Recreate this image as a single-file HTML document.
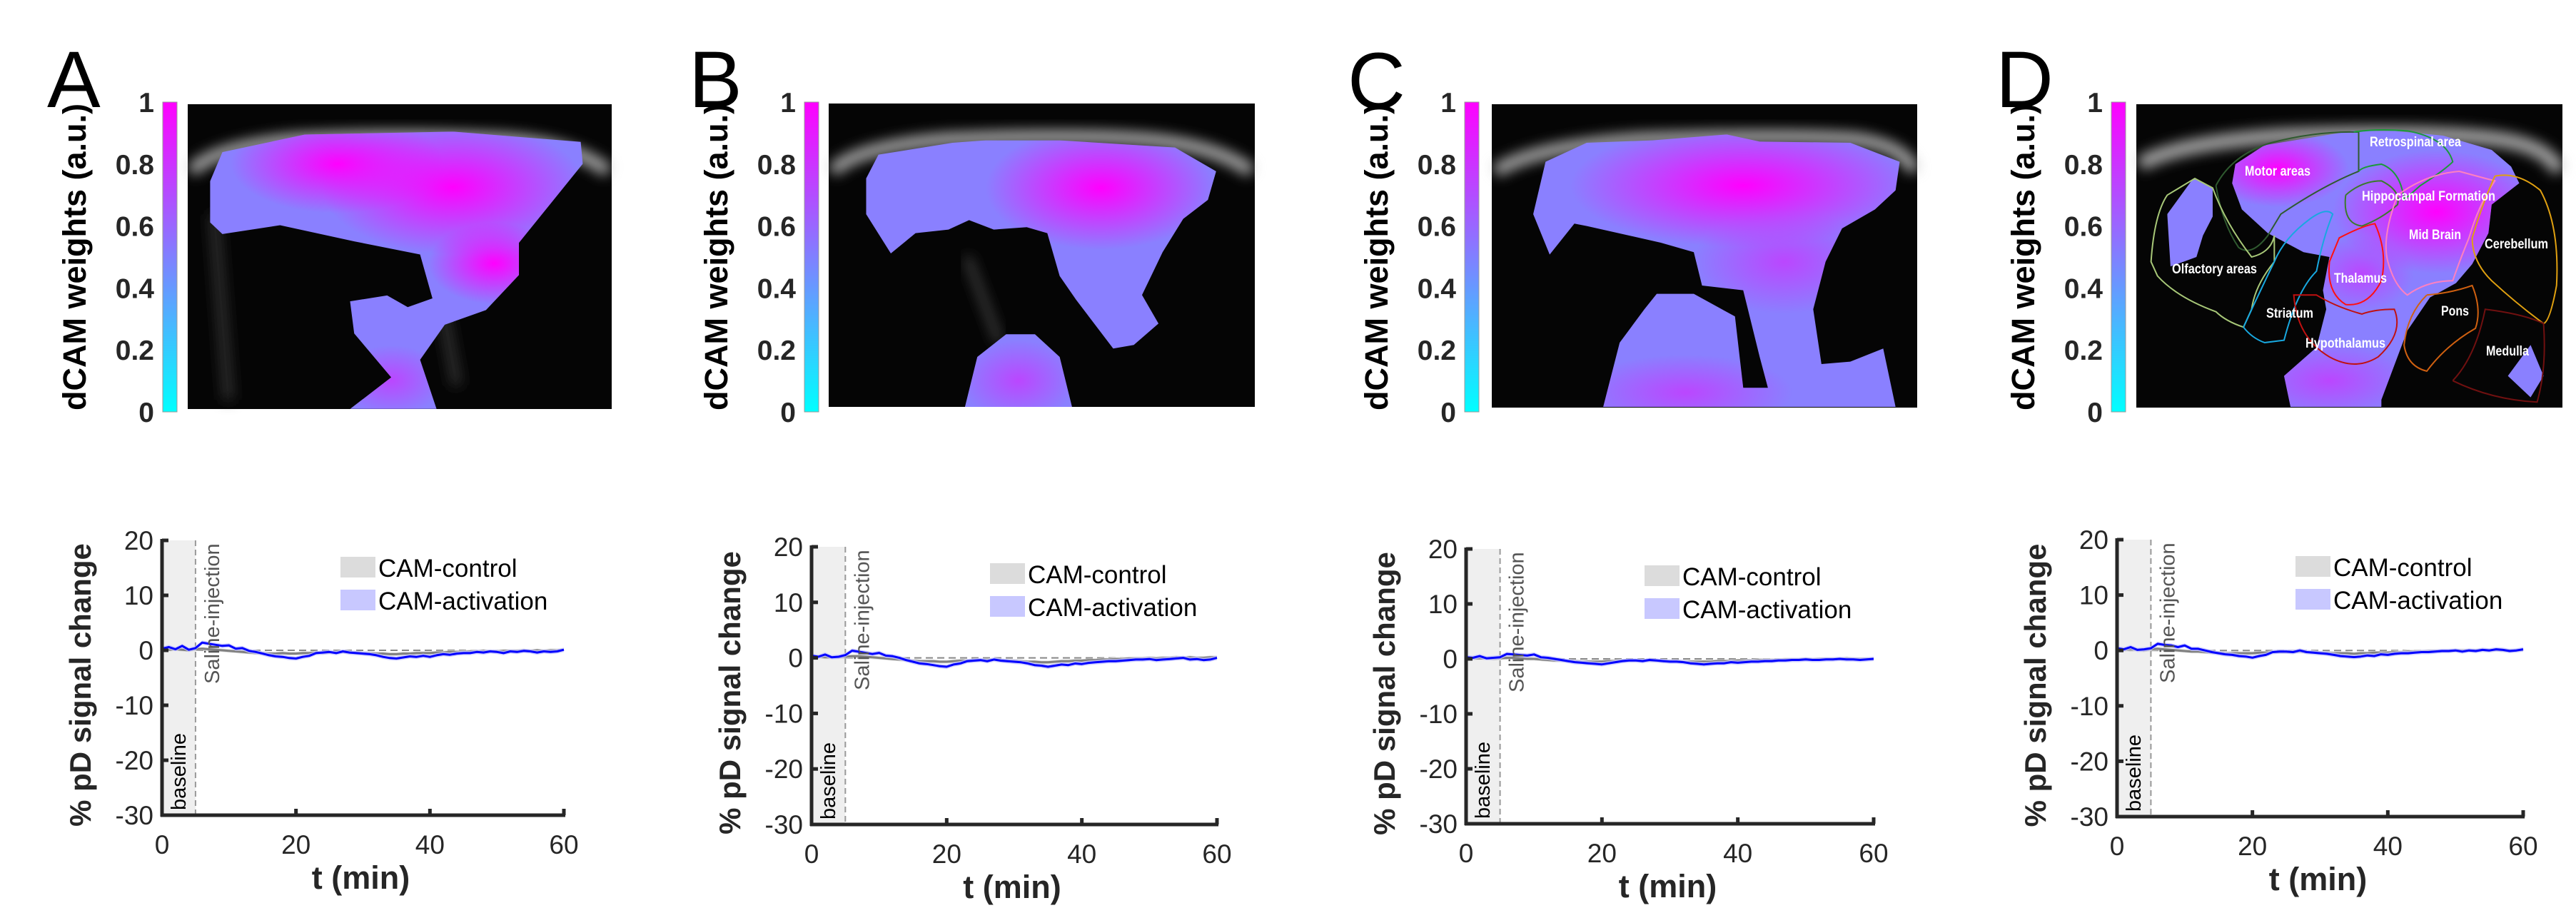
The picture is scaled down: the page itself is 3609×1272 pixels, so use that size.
<!DOCTYPE html>
<html><head><meta charset="utf-8"><style>
html,body{margin:0;padding:0;background:#fff;}
svg{display:block;font-family:"Liberation Sans",sans-serif;}
</style></head><body>
<svg id="fig" width="3609" height="1272" viewBox="0 0 3609 1272" xmlns="http://www.w3.org/2000/svg">
<defs>
  <linearGradient id="cool" x1="0" y1="1" x2="0" y2="0">
    <stop offset="0" stop-color="#00ffff"/><stop offset="0.5" stop-color="#8080ff"/><stop offset="1" stop-color="#ff00ff"/>
  </linearGradient>
  <radialGradient id="hot"><stop offset="0" stop-color="#ff00ff" stop-opacity="1"/><stop offset="1" stop-color="#ff00ff" stop-opacity="0"/></radialGradient>
  <radialGradient id="warm"><stop offset="0" stop-color="#c040ff" stop-opacity="0.9"/><stop offset="1" stop-color="#c040ff" stop-opacity="0"/></radialGradient>
  <filter id="blur" x="-20%" y="-50%" width="140%" height="200%"><feGaussianBlur stdDeviation="9"/></filter>
  <clipPath id="clipA"><polygon points="540,520 740,460 1100,450 1410,485 1415,560 1260,830 1260,940 1180,1060 1080,1110 1020,1230 1060,1398 850,1398 950,1290 860,1140 850,1030 940,1010 990,1050 1050,1020 1020,870 860,825 680,770 540,800 510,760 510,620"/></clipPath>
  <clipPath id="clipB"><polygon points="200,350 290,300 330,290 420,290 560,320 610,420 600,540 570,620 545,760 520,940 540,1060 510,1150 485,1165 440,960 420,860 405,680 380,655 340,665 310,625 285,665 245,680 215,765 185,600 185,450"/><polygon points="305,1410 320,1200 355,1105 390,1105 420,1200 435,1410"/></clipPath>
  <clipPath id="clipC"><polygon points="1010,380 1060,300 1140,290 1230,265 1270,295 1380,300 1440,380 1435,500 1410,580 1370,660 1350,800 1335,1000 1345,1230 1380,1220 1420,1165 1435,1410 1080,1410 1100,1140 1130,1000 1145,935 1190,935 1240,1030 1250,1330 1280,1330 1270,1200 1250,920 1200,900 1190,760 1150,720 1060,650 1045,640 1015,770 995,600"/></clipPath>
  <clipPath id="clipD"><polygon points="510,390 600,310 870,250 1000,250 1150,270 1300,330 1360,400 1385,470 1300,560 1290,680 1240,810 1190,890 1110,950 1040,1090 960,1380 960,1410 680,1410 660,1280 760,1160 790,1000 780,920 800,780 720,760 610,680 530,580 500,470"/><polygon points="300,600 380,450 440,490 440,610 410,690 390,780 310,820"/><polygon points="1350,1280 1420,1150 1460,1280 1420,1370"/></clipPath>
</defs>

<text x="66" y="150" font-size="112" fill="#000">A</text>
<text x="965" y="150" font-size="112" fill="#000">B</text>
<text x="1888" y="152" font-size="112" fill="#000">C</text>
<text x="2796" y="150" font-size="112" fill="#000">D</text>

<g>
  <rect x="263" y="146" width="594" height="427" fill="#050505"/>
  <path d="M268,240 Q300,205 420,195 Q560,188 700,195 Q800,200 852,240" fill="none" stroke="#c8c8c8" stroke-width="18" filter="url(#blur)" opacity="0.85"/>
  <path d="M300,300 L320,560 M620,430 L640,540" stroke="#333" stroke-width="14" filter="url(#blur)"/>
  <g transform="scale(0.5770,0.4098)">
    <g clip-path="url(#clipA)">
      <rect x="400" y="400" width="1100" height="1000" fill="#8a80ff"/>
      <ellipse cx="1100" cy="640" rx="320" ry="230" fill="url(#hot)"/>
      <ellipse cx="820" cy="560" rx="260" ry="170" fill="url(#hot)"/>
      <ellipse cx="1200" cy="900" rx="160" ry="140" fill="url(#hot)"/>
      <ellipse cx="950" cy="1300" rx="130" ry="120" fill="url(#warm)"/>
    </g>
  </g>
</g>
<g>
  <rect x="1161" y="145" width="597" height="425" fill="#050505"/>
  <path d="M1166,240 Q1200,205 1330,195 Q1500,188 1600,195 Q1700,202 1753,240" fill="none" stroke="#c8c8c8" stroke-width="18" filter="url(#blur)" opacity="0.85"/>
  <path d="M1355,360 L1400,480" stroke="#444" stroke-width="10" filter="url(#blur)"/>
  <g transform="translate(1000,100) scale(1.1538,0.3333)">
    <g clip-path="url(#clipB)">
      <rect x="150" y="250" width="500" height="1200" fill="#8a80ff"/>
      <ellipse cx="470" cy="490" rx="140" ry="260" fill="url(#hot)"/>
      <ellipse cx="370" cy="1300" rx="70" ry="170" fill="url(#warm)"/>
    </g>
  </g>
</g>
<g>
  <rect x="2090" y="146" width="596" height="425" fill="#050505"/>
  <path d="M2095,240 Q2150,205 2300,195 Q2500,188 2600,195 Q2670,205 2681,240" fill="none" stroke="#c8c8c8" stroke-width="18" filter="url(#blur)" opacity="0.85"/>
  <g transform="translate(1000,100) scale(1.1538,0.3333)">
    <g clip-path="url(#clipC)">
      <rect x="950" y="250" width="520" height="1200" fill="#8a80ff"/>
      <ellipse cx="1250" cy="480" rx="210" ry="260" fill="url(#hot)"/>
      <ellipse cx="1300" cy="800" rx="110" ry="220" fill="url(#warm)"/>
      <ellipse cx="1180" cy="1350" rx="130" ry="160" fill="url(#warm)"/>
    </g>
  </g>
</g>
<g>
  <rect x="2993" y="146" width="597" height="425" fill="#050505"/>
  <path d="M2998,230 Q3050,200 3200,190 Q3400,182 3500,195 Q3570,205 3585,240" fill="none" stroke="#c8c8c8" stroke-width="20" filter="url(#blur)" opacity="0.85"/>
  <g transform="translate(2900,100) scale(0.4545,0.3333)">
    <g clip-path="url(#clipD)">
      <rect x="250" y="200" width="1250" height="1250" fill="#8a80ff"/>
      <ellipse cx="1130" cy="590" rx="320" ry="260" fill="url(#hot)"/>
      <ellipse cx="640" cy="410" rx="220" ry="160" fill="url(#hot)"/>
      <ellipse cx="800" cy="1300" rx="260" ry="160" fill="url(#warm)"/>
      <ellipse cx="900" cy="850" rx="160" ry="160" fill="url(#warm)"/>
    </g>
    <g fill="none" stroke-width="2">
      <path vector-effect="non-scaling-stroke" d="M450,480 Q500,350 620,300 Q760,250 890,255 L890,420 Q780,480 650,600 L610,690 Q560,780 520,740 Q470,640 450,480" stroke="#2f5a2f"/>
      <path vector-effect="non-scaling-stroke" d="M875,255 Q940,240 1040,250 Q1160,280 1180,380 Q1150,420 1080,480 L1030,540 Q1020,420 960,390 Q900,400 890,420" stroke="#1a9a3a"/>
      <path vector-effect="non-scaling-stroke" d="M850,520 Q900,460 960,460 Q1020,500 1010,560 Q960,620 900,650 Q840,640 850,520" stroke="#3b7a2b"/>
      <path vector-effect="non-scaling-stroke" d="M385,450 L440,490 Q480,640 560,780 Q620,760 630,690 L630,800 Q570,900 560,1000 L535,1075 Q480,1050 450,1010 Q330,950 270,860 L250,800 Q260,600 300,520 Z" stroke="#a8c878"/>
      <path vector-effect="non-scaling-stroke" d="M535,1075 Q560,1120 600,1140 L660,1130 Q700,920 760,840 Q780,700 810,600 Q790,570 740,620 Q660,700 630,800 Q580,940 535,1075" stroke="#18a8e0"/>
      <path vector-effect="non-scaling-stroke" d="M830,700 Q900,650 940,640 Q980,760 960,880 Q920,990 850,980 Q790,930 800,800 Z" stroke="#ff1010"/>
      <path vector-effect="non-scaling-stroke" d="M690,940 Q700,1120 800,1200 Q880,1260 950,1200 Q1030,1100 1000,1000 Q940,1000 900,1020 Q820,990 760,940 Z" stroke="#c01010"/>
      <path vector-effect="non-scaling-stroke" d="M1010,520 Q1100,430 1200,420 Q1280,450 1310,460 Q1260,560 1230,700 Q1200,800 1180,880 Q1100,880 1040,940 Q1000,900 980,800 Q960,700 1010,520" stroke="#ff80c0"/>
      <path vector-effect="non-scaling-stroke" d="M1310,440 Q1380,420 1450,500 Q1510,650 1500,900 Q1480,1050 1460,1060 Q1380,980 1300,880 Q1240,800 1240,700 Q1270,560 1310,440" stroke="#e0a010"/>
      <path vector-effect="non-scaling-stroke" d="M1100,940 Q1180,930 1240,900 Q1270,1000 1250,1080 Q1160,1150 1100,1260 Q1040,1240 1030,1150 Q1040,1020 1100,940" stroke="#d06010"/>
      <path vector-effect="non-scaling-stroke" d="M1180,1300 Q1250,1200 1280,1000 Q1400,1020 1460,1060 Q1470,1250 1440,1390 Q1300,1380 1180,1300" stroke="#701010"/>
    </g>
  </g>
  <g fill="#fff" font-weight="bold" font-size="19">
    <text x="3320" y="205" textLength="128" lengthAdjust="spacingAndGlyphs">Retrospinal area</text>
    <text x="3145" y="246" textLength="92" lengthAdjust="spacingAndGlyphs">Motor areas</text>
    <text x="3309" y="281" textLength="187" lengthAdjust="spacingAndGlyphs">Hippocampal Formation</text>
    <text x="3375" y="335" textLength="73" lengthAdjust="spacingAndGlyphs">Mid Brain</text>
    <text x="3481" y="348" textLength="89" lengthAdjust="spacingAndGlyphs">Cerebellum</text>
    <text x="3043" y="383" textLength="119" lengthAdjust="spacingAndGlyphs">Olfactory areas</text>
    <text x="3270" y="396" textLength="74" lengthAdjust="spacingAndGlyphs">Thalamus</text>
    <text x="3175" y="445" textLength="66" lengthAdjust="spacingAndGlyphs">Striatum</text>
    <text x="3420" y="442" textLength="39" lengthAdjust="spacingAndGlyphs">Pons</text>
    <text x="3230" y="487" textLength="112" lengthAdjust="spacingAndGlyphs">Hypothalamus</text>
    <text x="3483" y="498" textLength="60" lengthAdjust="spacingAndGlyphs">Medulla</text>
  </g>
</g>

<g id="colorbars"></g>
<g id="charts"></g>

<script>
var times = [0,1,2,3,4,5,6,7,8,9,10,11,12,13,14,15,16,17,18,19,20,21,22,23,24,25,26,27,28,29,30,31,32,33,34,35,36,37,38,39,40,41,42,43,44,45,46,47,48,49,50,51,52,53,54,55,56,57,58,59,60];
var xTicks = [0,20,40,60];
var yTicks = [20,10,0,-10,-20,-30];
var cbTicks = [1,0.8,0.6,0.4,0.2,0];
var cbTickLabels = ["1","0.8","0.6","0.4","0.2","0"];
var baselineEnd = 5;
var seriesNames = ["CAM-control","CAM-activation"];
var actA = [0.3,0.6,0.2,0.8,0.1,0.4,1.4,1.2,1.0,0.8,0.9,0.3,0.4,-0.1,-0.3,-0.6,-0.9,-1.1,-1.2,-1.4,-1.5,-1.2,-1.0,-0.5,-0.4,-0.3,-0.5,-0.2,-0.4,-0.5,-0.6,-0.7,-0.9,-1.2,-1.4,-1.5,-1.3,-1.1,-1.2,-1.0,-1.2,-0.9,-0.7,-0.8,-0.6,-0.5,-0.5,-0.3,-0.4,-0.2,-0.3,-0.5,-0.2,-0.3,-0.1,-0.2,-0.4,-0.2,-0.3,-0.2,0.1];
var ctlA = [0.2,0.1,0.2,0.1,0.0,0.2,0.3,0.2,0.1,0.0,-0.1,-0.2,-0.3,-0.4,-0.5,-0.5,-0.6,-0.6,-0.5,-0.6,-0.6,-0.5,-0.5,-0.4,-0.5,-0.4,-0.4,-0.3,-0.4,-0.4,-0.5,-0.5,-0.6,-0.6,-0.7,-0.7,-0.6,-0.6,-0.5,-0.5,-0.5,-0.4,-0.4,-0.3,-0.3,-0.3,-0.2,-0.2,-0.1,-0.2,-0.2,-0.1,-0.1,-0.1,0.0,-0.1,0.0,-0.1,0.0,0.0,0.1];
var actB = [0.4,0.2,0.6,0.1,0.2,0.5,1.3,1.1,0.9,0.7,0.9,0.4,0.3,0.0,-0.4,-0.7,-1.0,-1.1,-1.3,-1.5,-1.6,-1.2,-1.0,-0.6,-0.5,-0.4,-0.6,-0.3,-0.5,-0.6,-0.7,-0.8,-1.0,-1.3,-1.4,-1.6,-1.4,-1.2,-1.3,-1.0,-1.1,-0.9,-0.8,-0.7,-0.6,-0.6,-0.5,-0.4,-0.3,-0.3,-0.2,-0.4,-0.3,-0.2,-0.1,0.0,-0.3,-0.2,-0.4,-0.3,0.0];
var ctlB = [0.2,0.2,0.1,0.1,0.1,0.2,0.3,0.3,0.2,0.1,0.0,-0.1,-0.2,-0.3,-0.4,-0.5,-0.6,-0.6,-0.6,-0.7,-0.7,-0.6,-0.5,-0.5,-0.4,-0.4,-0.4,-0.3,-0.4,-0.5,-0.5,-0.6,-0.7,-0.7,-0.8,-0.8,-0.7,-0.6,-0.6,-0.5,-0.5,-0.4,-0.4,-0.3,-0.3,-0.2,-0.2,-0.1,-0.1,-0.1,0.0,-0.1,0.0,0.0,0.1,0.0,0.1,0.0,0.0,0.1,0.1];
var actC = [0.3,0.2,0.5,0.1,0.2,0.3,0.9,0.8,0.7,0.6,0.8,0.3,0.2,0.0,-0.2,-0.4,-0.6,-0.7,-0.8,-0.9,-1.0,-0.8,-0.6,-0.4,-0.3,-0.3,-0.4,-0.2,-0.3,-0.4,-0.5,-0.5,-0.6,-0.8,-0.9,-1.0,-0.9,-0.8,-0.8,-0.6,-0.7,-0.6,-0.5,-0.5,-0.4,-0.4,-0.3,-0.3,-0.2,-0.2,-0.1,-0.2,-0.2,-0.1,-0.1,0.0,-0.1,-0.1,-0.2,-0.1,0.0];
var ctlC = [0.2,0.1,0.1,0.1,0.0,0.1,0.2,0.2,0.1,0.0,0.0,-0.1,-0.2,-0.3,-0.3,-0.4,-0.4,-0.5,-0.5,-0.5,-0.5,-0.4,-0.4,-0.3,-0.3,-0.3,-0.3,-0.3,-0.3,-0.4,-0.4,-0.4,-0.5,-0.5,-0.5,-0.5,-0.5,-0.4,-0.4,-0.4,-0.3,-0.3,-0.3,-0.2,-0.2,-0.2,-0.2,-0.1,-0.1,-0.1,0.0,-0.1,0.0,0.0,0.0,0.0,0.1,0.0,0.0,0.0,0.0];
var actD = [0.4,0.2,0.6,0.1,0.2,0.4,1.2,1.0,0.9,0.6,0.9,0.3,0.3,0.0,-0.3,-0.5,-0.7,-0.8,-1.0,-1.1,-1.3,-1.0,-0.8,-0.3,-0.2,-0.2,-0.3,0.0,-0.3,-0.4,-0.5,-0.6,-0.8,-1.0,-1.1,-1.2,-1.1,-0.9,-1.0,-0.7,-0.8,-0.6,-0.5,-0.5,-0.4,-0.3,-0.3,-0.2,-0.1,-0.1,0.0,-0.2,0.0,-0.1,0.1,0.0,0.2,0.1,-0.1,0.0,0.2];
var ctlD = [0.2,0.1,0.2,0.1,0.0,0.2,0.3,0.2,0.1,0.0,-0.1,-0.2,-0.2,-0.3,-0.4,-0.4,-0.5,-0.5,-0.5,-0.5,-0.5,-0.4,-0.4,-0.3,-0.3,-0.3,-0.3,-0.2,-0.3,-0.3,-0.4,-0.4,-0.5,-0.5,-0.5,-0.6,-0.5,-0.5,-0.4,-0.4,-0.4,-0.3,-0.3,-0.2,-0.2,-0.2,-0.1,-0.1,-0.1,-0.1,0.0,0.0,0.0,0.0,0.1,0.0,0.1,0.0,0.0,0.0,0.1];
var activationSeries = [actA, actB, actC, actD];
var controlSeries = [ctlA, ctlB, ctlC, ctlD];

var L = {
  ax0: [227, 1137, 2054, 2966], ax1: [790, 1705, 2625, 3535],
  ayT: [757, 766, 769, 756], ayB: [1142, 1155, 1154, 1144],
  cbX: [228, 1127, 2052, 2958], cbT: 143, cbB: 577
};
var NS = "http://www.w3.org/2000/svg";
function mk(parent, tag, attrs, txt) {
  var el = document.createElementNS(NS, tag);
  for (var k in attrs) el.setAttribute(k, attrs[k]);
  if (txt !== undefined) el.textContent = txt;
  parent.appendChild(el);
  return el;
}
var letters = ["a","b","c","d"];
var cbRoot = document.getElementById("colorbars");
var chRoot = document.getElementById("charts");

for (var p = 0; p < 4; p++) {
  var cx = L.cbX[p];
  var cb = mk(cbRoot, "rect", {x: cx, y: L.cbT, width: 20, height: L.cbB - L.cbT, fill: "url(#cool)", stroke: "#999", "stroke-width": 1});
  
  
  var cbScale = function (v) { return L.cbB - v * (L.cbB - L.cbT); };
  for (var i = 0; i < cbTicks.length; i++) {
    var tl = mk(cbRoot, "text", {x: cx - 12, y: cbScale(cbTicks[i]) + 14, "text-anchor": "end", "font-size": 39, "font-weight": "bold", fill: "#262626"}, cbTickLabels[i]);
    
    
  }
  var cyl = mk(cbRoot, "text", {transform: "translate(" + (cx - 108) + "," + ((L.cbT + L.cbB) / 2) + ") rotate(-90)", "text-anchor": "middle", "font-size": 45, "font-weight": "bold", fill: "#000"}, "dCAM weights (a.u.)");
  
  

  var x0 = L.ax0[p], x1 = L.ax1[p], yT = L.ayT[p], yB = L.ayB[p];
  var xs = function (t) { return x0 + (t / 60) * (x1 - x0); };
  var ys = function (v) { return yB - ((v + 30) / 50) * (yB - yT); };
  var g = mk(chRoot, "g", {});
  
  

  var shade = mk(g, "rect", {x: xs(0), y: ys(20), width: xs(baselineEnd) - xs(0), height: ys(-30) - ys(20), fill: "#efefef"});
  
  
  var vdash = mk(g, "line", {x1: xs(baselineEnd), x2: xs(baselineEnd), y1: ys(20), y2: ys(-30), stroke: "#999", "stroke-width": 2, "stroke-dasharray": "8,5"});
  
  
  var hdash = mk(g, "line", {x1: xs(0), x2: xs(60), y1: ys(0), y2: ys(0), stroke: "#888", "stroke-width": 2, "stroke-dasharray": "10,6"});
  
  

  var ctl = controlSeries[p], act = activationSeries[p];
  var bandC = "", lineC = "", bandA = "", lineA = "";
  for (var j = 0; j < times.length; j++) {
    lineC += (j ? "L" : "M") + xs(times[j]).toFixed(1) + "," + ys(ctl[j]).toFixed(1);
    lineA += (j ? "L" : "M") + xs(times[j]).toFixed(1) + "," + ys(act[j]).toFixed(1);
    bandC += (j ? "L" : "M") + xs(times[j]).toFixed(1) + "," + ys(ctl[j] + 0.3).toFixed(1);
    bandA += (j ? "L" : "M") + xs(times[j]).toFixed(1) + "," + ys(act[j] + 0.4).toFixed(1);
  }
  for (var j2 = times.length - 1; j2 >= 0; j2--) {
    bandC += "L" + xs(times[j2]).toFixed(1) + "," + ys(ctl[j2] - 0.3).toFixed(1);
    bandA += "L" + xs(times[j2]).toFixed(1) + "," + ys(act[j2] - 0.4).toFixed(1);
  }
  var bc = mk(g, "path", {d: bandC + "Z", fill: "#d8d8d8"});
  
  
  var lc = mk(g, "path", {d: lineC, fill: "none", stroke: "#808080", "stroke-width": 3, "stroke-linejoin": "round"});
  
  
  var ba = mk(g, "path", {d: bandA + "Z", fill: "#c8c8ff", opacity: 0.8});
  
  
  var la = mk(g, "path", {d: lineA, fill: "none", stroke: "#0000ff", "stroke-width": 3, "stroke-linejoin": "round"});
  
  

  var sal = mk(g, "text", {transform: "translate(" + (xs(baselineEnd) + 33) + "," + (yT + 201) + ") rotate(-90)", "font-size": 29, fill: "#555"}, "Saline-injection");
  
  
  var bl = mk(g, "text", {transform: "translate(" + (x0 + 33) + "," + (yB - 7) + ") rotate(-90)", "font-size": 29, fill: "#000"}, "baseline");
  
  

  var yaxis = mk(g, "line", {x1: x0, x2: x0, y1: yT - 2, y2: yB + 2, stroke: "#262626", "stroke-width": 5});
  
  
  var xaxis = mk(g, "line", {x1: x0 - 2, x2: x1 + 2, y1: yB, y2: yB, stroke: "#262626", "stroke-width": 5});
  
  
  for (var a = 0; a < yTicks.length; a++) {
    var tk = mk(g, "line", {x1: x0, x2: x0 + 9, y1: ys(yTicks[a]), y2: ys(yTicks[a]), stroke: "#262626", "stroke-width": 5});
    
    
    var tt = mk(g, "text", {x: x0 - 12, y: ys(yTicks[a]) + 13, "text-anchor": "end", "font-size": 37, fill: "#262626"}, String(yTicks[a]));
    
    
  }
  for (var b = 0; b < xTicks.length; b++) {
    var xk = mk(g, "line", {x1: xs(xTicks[b]), x2: xs(xTicks[b]), y1: yB, y2: yB - 9, stroke: "#262626", "stroke-width": 5});
    
    
    var xt = mk(g, "text", {x: xs(xTicks[b]), y: yB + 54, "text-anchor": "middle", "font-size": 37, fill: "#262626"}, String(xTicks[b]));
    
    
  }
  var xl = mk(g, "text", {x: (x0 + x1) / 2 - 3, y: yB + 103, "text-anchor": "middle", "font-size": 45, "font-weight": "bold", fill: "#262626"}, "t (min)");
  
  
  var yl = mk(g, "text", {transform: "translate(" + (x0 - 100) + "," + ((yT + yB) / 2 + 10) + ") rotate(-90)", "text-anchor": "middle", "font-size": 42, "font-weight": "bold", fill: "#262626"}, "% pD signal change");
  
  

  var lx = x0 + 250, ly = yT + 23;
  var legColors = ["#dcdcdc", "#c8c8ff"];
  for (var c = 0; c < 2; c++) {
    var sw = mk(g, "rect", {x: lx, y: ly + c * 46, width: 49, height: 29, fill: legColors[c]});
    
    
    var lt = mk(g, "text", {x: lx + 53, y: ly + c * 46 + 28, "font-size": 35, fill: "#000"}, seriesNames[c]);
    
    
  }
}
</script>
</svg>
</body></html>
